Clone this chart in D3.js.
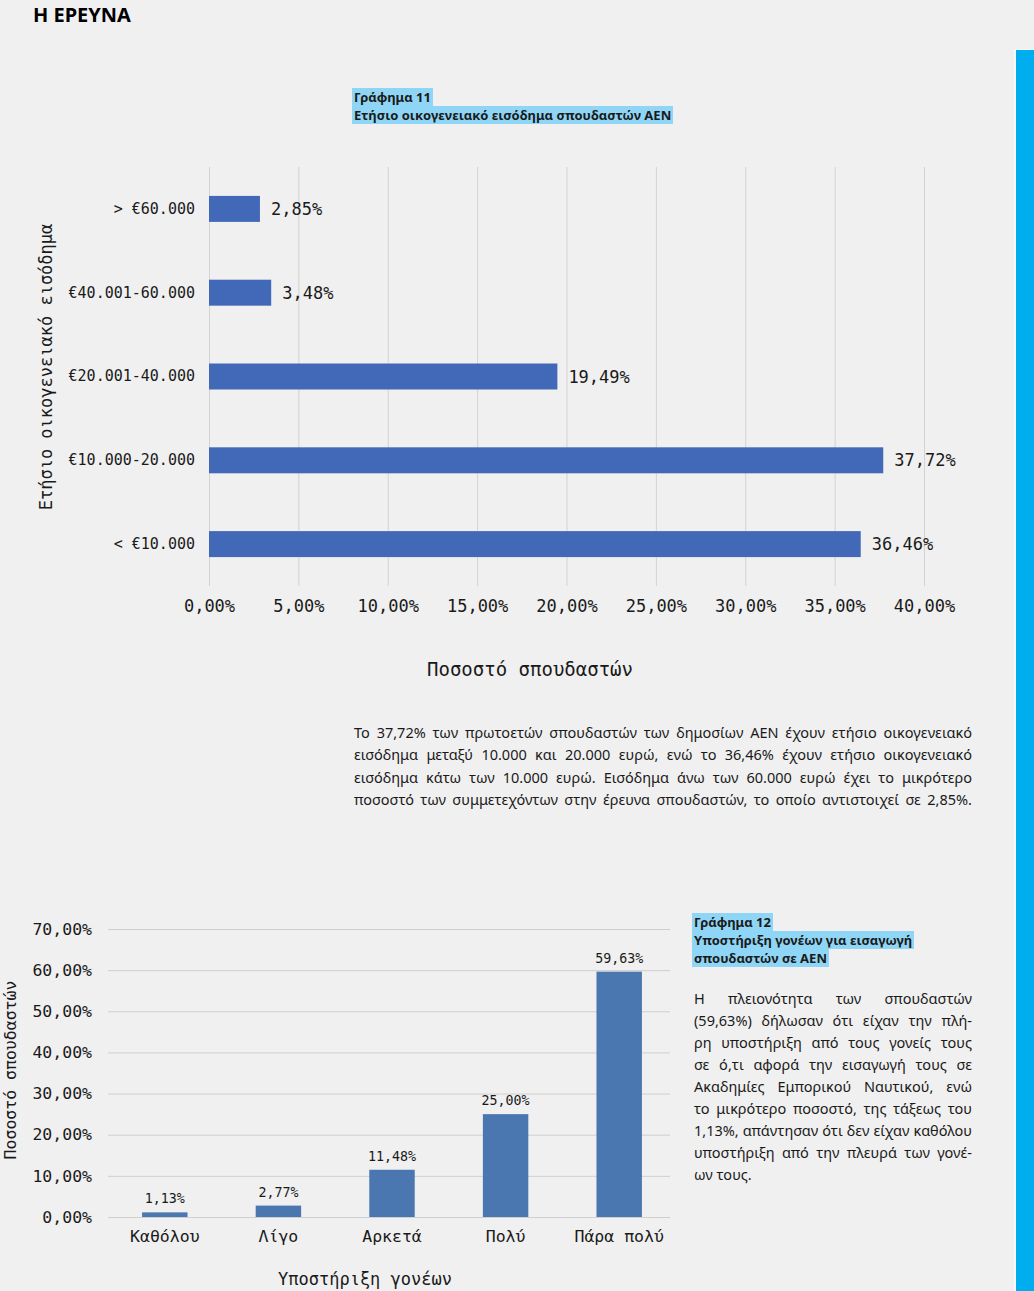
<!DOCTYPE html>
<html>
<head>
<meta charset="utf-8">
<script src="https://cdn.jsdelivr.net/npm/d3@7"></script>
<style>
  body { margin: 0; background: #f0f0f0; }
  #page { position: relative; width: 1034px; height: 1291px; overflow: hidden; background: #f0f0f0; }
  svg { position: absolute; left: 0; top: 0; }
  .txt { position: absolute; font-family: "Noto Sans", sans-serif; color: #1a1a1a; }
  .jl { text-align: justify; text-align-last: justify; white-space: nowrap; }
  .hd { font-weight: bold; font-size: 13px; line-height: 18px; }
  .hd span { background: #8fd6f6; padding: 0 2px; }
</style>
</head>
<body>
<div id="page"></div>
<script>
// Γράφημα 11
const incomeCats = ["> €60.000", "€40.001-60.000", "€20.001-40.000", "€10.000-20.000", "< €10.000"];
const incomeVals = [2.85, 3.48, 19.49, 37.72, 36.46];
const incomeTicks = [0, 5, 10, 15, 20, 25, 30, 35, 40];

// Γράφημα 12
const supportCats = ["Καθόλου", "Λίγο", "Αρκετά", "Πολύ", "Πάρα πολύ"];
const supportVals = [1.13, 2.77, 11.48, 25.00, 59.63];
const supportTicks = [0, 10, 20, 30, 40, 50, 60, 70];

const para1 = [
  "Το 37,72% των πρωτοετών σπουδαστών των δημοσίων ΑΕΝ έχουν ετήσιο οικογενειακό",
  "εισόδημα μεταξύ 10.000 και 20.000 ευρώ, ενώ το 36,46% έχουν ετήσιο οικογενειακό",
  "εισόδημα κάτω των 10.000 ευρώ. Εισόδημα άνω των 60.000 ευρώ έχει το μικρότερο",
  "ποσοστό των συμμετεχόντων στην έρευνα σπουδαστών, το οποίο αντιστοιχεί σε 2,85%."
];
const para2 = [
  "Η πλειονότητα των σπουδαστών",
  "(59,63%) δήλωσαν ότι είχαν την πλή-",
  "ρη υποστήριξη από τους γονείς τους",
  "σε ό,τι αφορά την εισαγωγή τους σε",
  "Ακαδημίες Εμπορικού Ναυτικού, ενώ",
  "το μικρότερο ποσοστό, της τάξεως του",
  "1,13%, απάντησαν ότι δεν είχαν καθόλου",
  "υποστήριξη από την πλευρά των γονέ-",
  "ων τους."
];

const pct = v => d3.format(".2f")(v).replace(".", ",") + "%";
const mono = "'DejaVu Sans Mono', monospace";

const page = d3.select("#page");
const svg = page.append("svg").attr("width", 1034).attr("height", 1291);

// side strip
svg.append("rect").attr("x", 1014).attr("y", 49).attr("width", 20).attr("height", 1242).attr("fill", "#fafafa");
svg.append("rect").attr("x", 1016).attr("y", 50).attr("width", 18).attr("height", 1241).attr("fill", "#00aeef");

// section title
svg.append("text")
  .attr("x", 33).attr("y", 22)
  .attr("font-family", "'Noto Sans', sans-serif")
  .attr("font-size", 20).attr("font-weight", "bold").attr("fill", "#000")
  .text("Η ΕΡΕΥΝΑ");

// ---- chart 11: horizontal bars ----
const x1 = d3.scaleLinear().domain([0, 40]).range([209, 924]);
const y1 = d3.scaleBand().domain(incomeCats).range([167, 586]).paddingInner(0.69).paddingOuter(0.345);

const g1 = svg.append("g");
g1.append("g")
  .attr("transform", "translate(0,586)")
  .call(d3.axisBottom(x1).tickValues(incomeTicks).tickFormat(pct).tickSize(-419).tickPadding(14))
  .call(g => g.select(".domain").remove())
  .call(g => g.selectAll("line").attr("stroke", "#d3d3d3"))
  .call(g => g.selectAll("text").attr("font-family", mono).attr("font-size", 17).attr("fill", "#1a1a1a"));

g1.append("g")
  .attr("transform", "translate(209,0)")
  .call(d3.axisLeft(y1).tickSize(0).tickPadding(14))
  .call(g => g.select(".domain").remove())
  .call(g => g.selectAll("text").attr("font-family", mono).attr("font-size", 15).attr("fill", "#1a1a1a"));

g1.selectAll("rect.bar").data(incomeVals).enter().append("rect")
  .attr("class", "bar")
  .attr("x", x1(0))
  .attr("y", (d, i) => y1(incomeCats[i]))
  .attr("width", d => x1(d) - x1(0))
  .attr("height", y1.bandwidth())
  .attr("fill", "#4169b8");

g1.selectAll("text.val").data(incomeVals).enter().append("text")
  .attr("class", "val")
  .attr("x", d => x1(d) + 11)
  .attr("y", (d, i) => y1(incomeCats[i]) + y1.bandwidth() / 2)
  .attr("dy", "0.36em")
  .attr("font-family", mono).attr("font-size", 17).attr("fill", "#1a1a1a")
  .text(pct);

g1.append("text")
  .attr("x", 530).attr("y", 676)
  .attr("text-anchor", "middle")
  .attr("font-family", mono).attr("font-size", 19).attr("fill", "#1a1a1a")
  .text("Ποσοστό σπουδαστών");

g1.append("text")
  .attr("transform", "translate(52,367) rotate(-90)")
  .attr("text-anchor", "middle")
  .attr("font-family", mono).attr("font-size", 17).attr("fill", "#1a1a1a")
  .text("Ετήσιο οικογενειακό εισόδημα");

// heading 11
const h1 = page.append("div").attr("class", "txt hd")
  .style("left", "352px").style("top", "88px");
h1.append("span").text("Γράφημα 11");
h1.append("br");
h1.append("span").text("Ετήσιο οικογενειακό εισόδημα σπουδαστών ΑΕΝ");

// paragraph 11
para1.forEach((line, i) => {
  page.append("div").attr("class", "txt jl")
    .style("left", "354px").style("top", (721 + i * 22.3) + "px")
    .style("width", "618px").style("font-size", "14.5px").style("line-height", "22px")
    .text(line);
});

// ---- chart 12: vertical bars ----
const x2 = d3.scaleBand().domain(supportCats).range([108, 676]).paddingInner(0.6).paddingOuter(0.3);
const y2 = d3.scaleLinear().domain([0, 70]).range([1217, 929]);

const g2 = svg.append("g");
g2.append("g")
  .attr("transform", "translate(108,0)")
  .call(d3.axisLeft(y2).tickValues(supportTicks).tickFormat(pct).tickSize(-562).tickPadding(16))
  .call(g => g.select(".domain").remove())
  .call(g => g.selectAll("line").attr("stroke", "#cfcfcf"))
  .call(g => g.selectAll("text").attr("font-family", mono).attr("font-size", 16.5).attr("fill", "#1a1a1a"));

g2.append("g")
  .attr("transform", "translate(0,1217)")
  .call(d3.axisBottom(x2).tickSize(0).tickPadding(13))
  .call(g => g.select(".domain").remove())
  .call(g => g.selectAll("text").attr("font-family", mono).attr("font-size", 16.5).attr("fill", "#1a1a1a"));

g2.selectAll("rect.bar").data(supportVals).enter().append("rect")
  .attr("class", "bar")
  .attr("x", (d, i) => x2(supportCats[i]))
  .attr("y", d => y2(d))
  .attr("width", x2.bandwidth())
  .attr("height", d => y2(0) - y2(d))
  .attr("fill", "#4a77b0");

g2.selectAll("text.val").data(supportVals).enter().append("text")
  .attr("class", "val")
  .attr("x", (d, i) => x2(supportCats[i]) + x2.bandwidth() / 2)
  .attr("y", d => y2(d) - 9)
  .attr("text-anchor", "middle")
  .attr("font-family", mono).attr("font-size", 13.3).attr("fill", "#1a1a1a")
  .text(pct);

g2.append("text")
  .attr("x", 365).attr("y", 1285)
  .attr("text-anchor", "middle")
  .attr("font-family", mono).attr("font-size", 17).attr("fill", "#1a1a1a")
  .text("Υποστήριξη γονέων");

g2.append("text")
  .attr("transform", "translate(16,1070) rotate(-90)")
  .attr("text-anchor", "middle")
  .attr("font-family", mono).attr("font-size", 16.5).attr("fill", "#1a1a1a")
  .text("Ποσοστό σπουδαστών");

// heading 12
const h2 = page.append("div").attr("class", "txt hd")
  .style("left", "692px").style("top", "913px");
["Γράφημα 12", "Υποστήριξη γονέων για εισαγωγή", "σπουδαστών σε ΑΕΝ"].forEach((t, i) => {
  if (i) h2.append("br");
  h2.append("span").text(t);
});

// paragraph 12
para2.forEach((line, i) => {
  page.append("div").attr("class", "txt" + (i < para2.length - 1 ? " jl" : ""))
    .style("left", "694px").style("top", (987 + i * 22) + "px")
    .style("width", "278px").style("font-size", "14.5px").style("line-height", "22px")
    .style("white-space", "nowrap")
    .text(line);
});
</script>
</body>
</html>
